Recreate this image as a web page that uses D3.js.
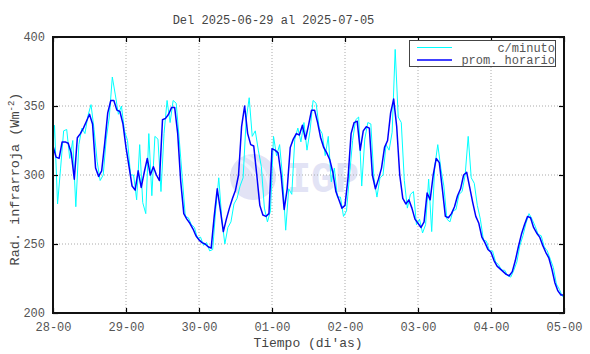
<!DOCTYPE html>
<html>
<head>
<meta charset="utf-8">
<script src="https://cdn.jsdelivr.net/npm/d3@7"></script>
<style>
body { margin: 0; background: #fff; }
text { font-family: "Liberation Mono", "DejaVu Sans Mono", monospace; }
</style>
</head>
<body>
<svg id="chart" width="590" height="354"></svg>
<script>
// etiquetas del eje x (dia-hora), una por dia
let dayLabels = ['28-00', '29-00', '30-00', '01-00', '02-00', '03-00', '04-00', '05-00'];
let yTicks = [200, 250, 300, 350, 400];

// promedio horario, desde 28-00 hasta 05-00
let hourly = [
    321, 313, 312, 324, 324, 323, 316, 297, 327, 330, 334, 339, 344, 337, 305, 299, 303, 323, 345, 354, 354, 347, 346, 337,
    320, 306, 292, 289, 303, 291, 302, 312, 300, 306, 300, 296, 340, 341, 344, 349, 349, 330, 295, 272, 268, 265, 261, 256,
    253, 251, 250, 248, 247, 270, 290, 275, 259, 268, 276, 283, 289, 300, 335, 350, 330, 322, 321, 300, 278, 271, 270, 272,
    319, 318, 316, 300, 275, 290, 320, 326, 330, 329, 336, 326, 336, 347, 347, 338, 327, 320, 316, 311, 302, 288, 282, 276,
    278, 298, 330, 338, 339, 318, 332, 335, 334, 300, 290, 297, 305, 320, 325, 345, 355, 335, 300, 283, 279, 282, 276, 268,
    265, 262, 266, 287, 282, 300, 312, 309, 290, 270, 269, 272, 277, 285, 290, 300, 302, 291, 280, 270, 265, 255, 251, 246,
    244, 238, 234, 232, 230, 228, 227, 230, 238, 248, 257, 264, 270, 269, 262, 258, 255, 249, 244, 240, 232, 222, 216, 213,
    213
];

// datos c/minuto: maximo y minimo en bloques de 2 horas
let minuteHi = [
    336, 332, 333, 325, 334, 343, 351, 310, 326, 371, 358, 350,
    325, 300, 322, 330, 328, 326, 354, 354, 352, 298, 269, 262,
    255, 251, 275, 298, 262, 279, 292, 340, 356, 332, 306, 274,
    328, 322, 290, 326, 334, 338, 354, 352, 330, 328, 305, 284,
    300, 340, 342, 338, 337, 298, 322, 331, 391, 338, 286, 288,
    268, 297, 306, 322, 292, 274, 286, 300, 328, 294, 268, 252,
    245, 235, 231, 231, 249, 265, 272, 263, 256, 245, 233, 217
];
let minuteLo = [
    279, 305, 312, 277, 322, 330, 333, 296, 300, 342, 344, 332,
    300, 282, 280, 272, 285, 288, 330, 338, 326, 270, 264, 254,
    249, 245, 246, 268, 250, 266, 283, 298, 328, 318, 276, 266,
    314, 298, 260, 286, 324, 318, 332, 334, 314, 295, 284, 270,
    274, 325, 292, 326, 298, 284, 300, 318, 342, 296, 276, 264,
    258, 264, 259, 305, 268, 266, 275, 288, 298, 278, 253, 245,
    237, 231, 227, 226, 237, 256, 268, 257, 248, 239, 221, 212
];

let svg = d3.select('#chart');
let plotLeft = 53, plotRight = 564, plotTop = 37, plotBottom = 313;

let x = d3.scaleLinear().domain([0, 168]).range([plotLeft, plotRight]);
let y = d3.scaleLinear().domain([200, 400]).range([plotBottom, plotTop]);

// marca de agua IGP
let wm = svg.append('g').attr('fill', '#e2e3f5');
wm.append('circle').attr('cx', 253).attr('cy', 177).attr('r', 23);
wm.append('path')
    .attr('d', 'M238,160 Q258,168 262,198 M246,156 Q268,166 270,192')
    .attr('fill', 'none').attr('stroke', '#f2f2fb').attr('stroke-width', 3);
wm.append('text')
    .attr('x', 287).attr('y', 192)
    .attr('font-family', 'DejaVu Sans').attr('font-weight', 'bold')
    .attr('font-size', 44)
    .attr('textLength', 72).attr('lengthAdjust', 'spacingAndGlyphs')
    .text('IGP');

// grilla punteada
let grid = svg.append('g').attr('stroke', '#aaa').attr('stroke-dasharray', '1,2').attr('stroke-width', 1);
d3.range(1, dayLabels.length - 1).forEach(i => {
    grid.append('line').attr('x1', x(i * 24)).attr('x2', x(i * 24)).attr('y1', plotTop).attr('y2', plotBottom);
});
yTicks.slice(1, -1).forEach(v => {
    grid.append('line').attr('x1', plotLeft).attr('x2', plotRight).attr('y1', y(v)).attr('y2', y(v));
});

// serie c/minuto
let minutePts = [[0, hourly[0]]];
for (let k = 0; k < minuteHi.length; k++) {
    let rising = hourly[2 * k + 1] >= hourly[2 * k];
    let a = rising ? minuteLo[k] : minuteHi[k];
    let b = rising ? minuteHi[k] : minuteLo[k];
    minutePts.push([2 * k + 0.5, a]);
    minutePts.push([2 * k + 1.5, b]);
}
minutePts.push([168, hourly[168]]);

let line = d3.line().x(d => x(d[0])).y(d => y(d[1]));

svg.append('path')
    .attr('d', line(minutePts))
    .attr('fill', 'none')
    .attr('stroke', '#00ffff')
    .attr('stroke-width', 1);

svg.append('path')
    .attr('d', line(hourly.map((v, i) => [i, v])))
    .attr('fill', 'none')
    .attr('stroke', '#0000ff')
    .attr('stroke-width', 1.5)
    .attr('stroke-linejoin', 'round');

// ejes
let xTickVals = dayLabels.map((d, i) => i * 24);

svg.append('g')
    .attr('transform', `translate(0,${plotBottom})`)
    .call(d3.axisBottom(x).tickValues(xTickVals).tickFormat((d, i) => dayLabels[i])
        .tickSizeInner(-5).tickSizeOuter(0).tickPadding(9));
svg.append('g')
    .attr('transform', `translate(0,${plotTop})`)
    .call(d3.axisTop(x).tickValues(xTickVals).tickFormat('').tickSizeInner(-5).tickSizeOuter(0));
svg.append('g')
    .attr('transform', `translate(${plotLeft},0)`)
    .call(d3.axisLeft(y).tickValues(yTicks).tickSizeInner(-5).tickSizeOuter(0).tickPadding(8));
svg.append('g')
    .attr('transform', `translate(${plotRight},0)`)
    .call(d3.axisRight(y).tickValues(yTicks).tickFormat('').tickSizeInner(-5).tickSizeOuter(0));

svg.selectAll('.domain').remove();
svg.selectAll('.tick line').attr('stroke', '#000').attr('stroke-width', 1.2);
svg.selectAll('.tick text')
    .attr('font-family', '"Liberation Mono", monospace')
    .attr('font-size', 12)
    .attr('fill', '#555');

svg.append('rect')
    .attr('x', plotLeft).attr('y', plotTop)
    .attr('width', plotRight - plotLeft).attr('height', plotBottom - plotTop)
    .attr('fill', 'none').attr('stroke', '#111').attr('stroke-width', 2);

// leyenda
let lg = svg.append('g');
lg.append('rect')
    .attr('x', 409.5).attr('y', 40.5).attr('width', 146).attr('height', 26)
    .attr('fill', '#fff').attr('stroke', '#444').attr('stroke-width', 1);
lg.append('line').attr('x1', 417).attr('x2', 452).attr('y1', 47.5).attr('y2', 47.5)
    .attr('stroke', '#00ffff').attr('stroke-width', 1);
lg.append('line').attr('x1', 417).attr('x2', 452).attr('y1', 60).attr('y2', 60)
    .attr('stroke', '#0000ff').attr('stroke-width', 1.5);
lg.append('text').attr('x', 555).attr('y', 51.5).attr('text-anchor', 'end')
    .attr('font-size', 12).attr('fill', '#555').text('c/minuto');
lg.append('text').attr('x', 555).attr('y', 64).attr('text-anchor', 'end')
    .attr('font-size', 12).attr('fill', '#555').text('prom. horario');

// titulos
svg.append('text')
    .attr('x', 273.5).attr('y', 23.5).attr('text-anchor', 'middle')
    .attr('font-size', 12).attr('fill', '#444')
    .text('Del 2025-06-29 al 2025-07-05');

svg.append('text')
    .attr('x', 308).attr('y', 347).attr('text-anchor', 'middle')
    .attr('font-size', 13).attr('fill', '#444')
    .text("Tiempo (di'as)");

let yl = svg.append('text')
    .attr('transform', 'translate(19,179) rotate(-90)')
    .attr('text-anchor', 'middle')
    .attr('font-size', 13.5).attr('fill', '#444');
yl.append('tspan').text('Rad. infrarroja (Wm');
yl.append('tspan').attr('baseline-shift', 'super').attr('font-size', 9).text('-2');
yl.append('tspan').text(')');
</script>
</body>
</html>
